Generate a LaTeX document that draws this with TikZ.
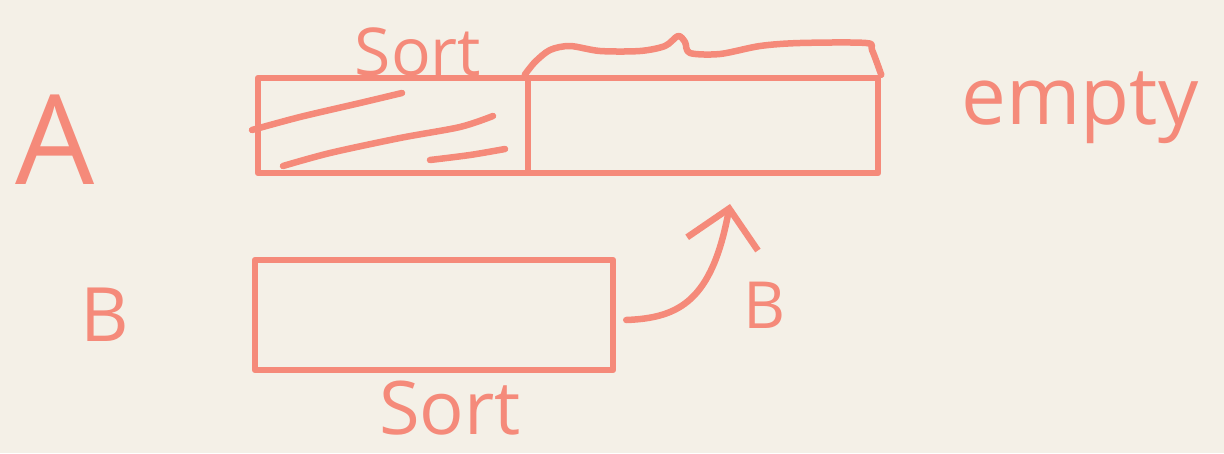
\documentclass[tikz,border=0pt]{standalone}
\usepackage{fontspec}
\setmainfont{Open Sans}
\usetikzlibrary{arrows.meta}
\definecolor{paper}{RGB}{244,240,231}
\definecolor{ink}{RGB}{245,138,122}
\begin{document}
\begin{tikzpicture}[x=1pt,y=-1pt,
  pen/.style={draw=ink,line width=6.5pt,line cap=round,line join=round},
  boxnode/.style={pen,inner sep=0pt,minimum width=#1},
  lbl/.style={text=ink,inner sep=0pt,font=\fontsize{#1}{#1}\selectfont}]
\fill[paper] (0,0) rectangle (1224,453);
\useasboundingbox (0,0) rectangle (1224,453);
% A boxes
\node[boxnode=270pt,minimum height=95pt] (Aleft) at (393,125.5) {};
\node[boxnode=350pt,minimum height=95pt] (Aright) at (703,125.5) {};
% hatching
\draw[pen] plot[smooth] coordinates {(252,130) (300,117) (360,103) (402,93)};
\draw[pen] plot[smooth] coordinates {(283,166) (330,153) (400,138) (460,127) (493,116)};
\draw[pen] plot[smooth] coordinates {(430,160) (470,155) (505,149)};
% brace over empty part
\draw[pen] plot[smooth] coordinates {(Aright.north west) (535,62) (550,50) (570,46) (600,51) (640,51) (665,46) (678,36) (685,42) (690,53) (720,54) (760,46) (800,43) (866,43) (872,50) (Aright.north east)};
% B box
\node[boxnode=358pt,minimum height=110pt] (Bbox) at (434,315) {};
% arrow
\coordinate (tip) at (730,204);
\draw[pen,-{Straight Barb[length=36pt,width=72pt,line width=6.5pt]}] (Bbox.east)++(10,5) .. controls (680,318) and (712,300) .. (tip);
% labels
\node[lbl=125] (labA) at (55,140) {A};
\node[lbl=75] (labB1) at (105,315) {B};
\node[lbl=66] (sortTop) at (418,52) {Sort};
\node[lbl=80] (empty) at (1080,108) {empty};
\node[lbl=74] (sortBot) at (450,408) {Sort};
\node[lbl=65] (labB2) at (765,305) {B};
\end{tikzpicture}
\end{document}
